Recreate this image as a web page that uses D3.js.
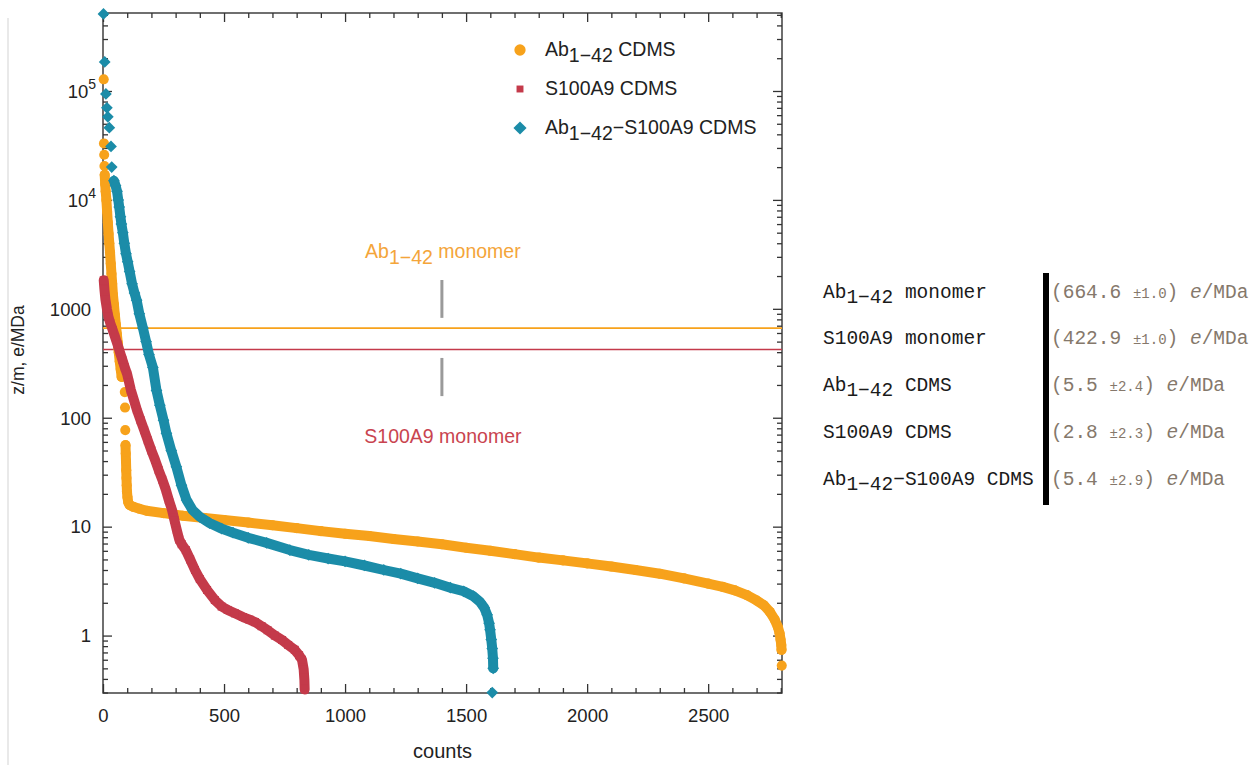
<!DOCTYPE html>
<html lang="en">
<head>
<meta charset="UTF-8">
<script src="https://cdn.jsdelivr.net/npm/d3@7/dist/d3.min.js"></script>
<title>z/m vs counts</title>
<style>
    body, html {
        margin: 0;
        padding: 0;
        background: #fff;
    }
    #chart {
        width: 1257px;
        height: 765px;
    }
</style>
</head>
<body>
<div id="chart"></div>
<script>

// ---- data ----
// [count, z/m in e/MDa], sorted descending
// "sparse" = isolated markers, "dense" = runs of markers that merge into a band
const abSparse = [
    [3, 128000], [4, 33000], [5, 26000], [6, 20500],
    [90, 172], [91, 124], [92, 77], [2804, 0.53]
]
const abDense = [
    [7, 17000], [9, 14000], [11, 12000], [14, 10000], [17, 7800], [20, 6200], [23, 4900], [26, 4000],
    [29, 3300], [32, 2600], [35, 2100], [38, 1700], [41, 1350], [45, 1100], [49, 880],
    [53, 720], [57, 590], [61, 490], [65, 400], [69, 330], [73, 280], [77, 237],
    null,
    [93, 56], [94, 47], [95, 40], [96, 33], [97, 28], [98, 24], [99, 21], [101, 18.7],
    [104, 16.8], [110, 15.8], [125, 15.2], [150, 14.6], [180, 14.0], [250, 13.3], [330, 12.6],
    [420, 12.0], [500, 11.5], [600, 10.9], [700, 10.3], [800, 9.7], [900, 9.1], [1000, 8.6],
    [1100, 8.2], [1200, 7.7], [1300, 7.3], [1400, 6.9], [1500, 6.4], [1600, 6.0], [1700, 5.6],
    [1800, 5.2], [1900, 4.9], [2000, 4.6], [2100, 4.3], [2200, 4.0], [2300, 3.7], [2400, 3.35],
    [2500, 3.0], [2560, 2.8], [2610, 2.6], [2660, 2.35], [2700, 2.1], [2730, 1.9], [2755, 1.65],
    [2775, 1.4], [2788, 1.2], [2795, 1.05], [2799, 0.92], [2802, 0.82], [2803, 0.74]
]
const s100Sparse = []
const s100Dense = [
    [3, 1830], [6, 1500], [10, 1220], [16, 1000], [22, 850], [30, 740], [40, 640], [50, 550],
    [60, 470], [70, 400], [80, 340], [90, 290], [100, 250], [108, 210], [115, 180], [128, 145],
    [140, 118], [155, 95], [170, 77], [185, 62], [200, 50], [215, 41], [230, 33], [245, 27],
    [260, 21.7], [272, 17.5], [285, 14.3], [295, 11.5], [305, 9.3], [315, 7.6], [325, 6.9],
    [342, 6.1], [360, 5.0], [380, 4.0], [400, 3.3], [430, 2.62], [462, 2.12], [490, 1.85],
    [515, 1.72], [545, 1.6], [578, 1.48], [605, 1.4], [628, 1.33], [655, 1.22], [680, 1.12],
    [710, 1.0], [740, 0.91], [765, 0.82], [792, 0.74], [810, 0.66], [822, 0.6], [829, 0.49],
    [832, 0.39], [833, 0.32]
]
const mixSparse = [
    [2, 510000], [7, 185000], [12, 94000], [16, 70000], [20, 58000], [26, 46000], [33, 31000],
    [36, 20000], [1608, 0.3]
]
const mixDense = [
    [45, 15000], [52, 13500], [58, 12000], [63, 10000], [67, 8600], [72, 7000],
    [76, 6000], [82, 5000], [88, 4000], [95, 3200], [102, 2700], [110, 2200], [120, 1700],
    [130, 1400], [139, 1200], [150, 900], [165, 665], [178, 500], [190, 380], [206, 290],
    [221, 178], [235, 130], [250, 95], [262, 72], [282, 50], [303, 35.5], [324, 24],
    [345, 17.6], [370, 14.2], [400, 12.3], [440, 10.8], [490, 9.6], [537, 8.8], [600, 7.9],
    [676, 7.1], [772, 6.1], [850, 5.5], [930, 5.1], [1000, 4.8], [1080, 4.4], [1160, 4.0],
    [1230, 3.7], [1300, 3.35], [1370, 3.05], [1435, 2.75], [1490, 2.55], [1530, 2.3],
    [1558, 2.03], [1575, 1.8], [1587, 1.55], [1595, 1.3], [1599, 1.13], [1604, 0.92],
    [1608, 0.76], [1611, 0.62], [1612, 0.5]
]

const seriesNames = ["Ab1-42 CDMS", "S100A9 CDMS", "Ab1-42-S100A9 CDMS"]
const seriesShapes = ["circle", "square", "diamond"]

// monomer reference levels
const monomerNames = ["Ab1-42 monomer", "S100A9 monomer"]
const monomerLevels = [664.6, 422.9]
// label position (count) and the gray marker spans (e/MDa)
const annotationCount = 1400
const markerSpans = [[1840, 826], [354, 158]]

// table on the right
const tableLabels = ["Ab1-42 monomer", "S100A9 monomer", "Ab1-42 CDMS", "S100A9 CDMS", "Ab1-42-S100A9 CDMS"]
const tableValues = ["664.6", "422.9", "5.5", "2.8", "5.4"]
const tableErrors = ["1.0", "1.0", "2.4", "2.3", "2.9"]

// axes
const xDomain = [0, 2805]
const yDomain = [0.297, 520000]
const xTicks = [0, 500, 1000, 1500, 2000, 2500]
const yTicks = [1, 10, 100, 1000, 10000, 100000]


// ---- layout ----
const W = 1257, H = 765
const plot = { left: 103, right: 782, top: 13, bottom: 693 }
const COLORS = ["#F7A21B", "#C43A4A", "#1B8CA8"]
const TEXT_COLORS = ["#F4A53A", "#C9444F"]
const FONT = "'Liberation Sans', Arial, sans-serif"
const MONO = "'Liberation Mono', 'DejaVu Sans Mono', monospace"

const svg = d3.select("#chart").append("svg").attr("width", W).attr("height", H)
    .style("font-family", FONT)

const x = d3.scaleLinear().domain(xDomain).range([plot.left, plot.right])
const y = d3.scaleLog().domain(yDomain).range([plot.bottom, plot.top])

// faint page edge on the left
svg.append("line").attr("x1", 8).attr("x2", 8).attr("y1", 18).attr("y2", H)
    .attr("stroke", "#e2e2e2").attr("stroke-width", 1.5)

// minor tick values
const xMinor = d3.range(0, 2801, 100).filter(v => v % 500 !== 0)
let yMinor = []
for (let d = 0.1; d <= 100000; d *= 10) {
    for (let k = 2; k <= 9; k++) {
        let v = k * d
        if (v >= yDomain[0] && v <= yDomain[1]) yMinor.push(v)
    }
}

const styleAxis = g => {
    g.select(".domain").remove()
    g.selectAll(".tick line").attr("stroke", "#333").attr("stroke-width", 1.3)
    g.selectAll("text").attr("fill", "#222").style("font-family", FONT).style("font-size", "18.5px")
}

// bottom / top
svg.append("g").attr("transform", `translate(0,${plot.bottom})`)
    .call(d3.axisBottom(x).tickValues(xTicks).tickSize(-9).tickPadding(16).tickFormat(d3.format("d")))
    .call(styleAxis)
svg.append("g").attr("transform", `translate(0,${plot.bottom})`)
    .call(d3.axisBottom(x).tickValues(xMinor).tickSize(-5).tickFormat(""))
    .call(styleAxis)
svg.append("g").attr("transform", `translate(0,${plot.top})`)
    .call(d3.axisTop(x).tickValues(xTicks).tickSize(-9).tickFormat(""))
    .call(styleAxis)
svg.append("g").attr("transform", `translate(0,${plot.top})`)
    .call(d3.axisTop(x).tickValues(xMinor).tickSize(-5).tickFormat(""))
    .call(styleAxis)

// left / right
const yLeft = svg.append("g").attr("transform", `translate(${plot.left},0)`)
    .call(d3.axisLeft(y).tickValues(yTicks).tickSize(-9).tickFormat(""))
    .call(styleAxis)
yLeft.selectAll(".tick").append("text")
    .attr("x", -12).attr("dy", "0.34em").attr("text-anchor", "end")
    .attr("fill", "#222").style("font-size", "18.5px")
    .each(function (d) {
        let t = d3.select(this)
        if (d >= 10000) {
            t.attr("x", -7)
            t.append("tspan").text("10")
            t.append("tspan").attr("dy", -9).style("font-size", "14px").text(Math.round(Math.log10(d)))
        } else {
            t.text(d)
        }
    })
svg.append("g").attr("transform", `translate(${plot.left},0)`)
    .call(d3.axisLeft(y).tickValues(yMinor).tickSize(-5).tickFormat(""))
    .call(styleAxis)
svg.append("g").attr("transform", `translate(${plot.right},0)`)
    .call(d3.axisRight(y).tickValues(yTicks).tickSize(-9).tickFormat(""))
    .call(styleAxis)
svg.append("g").attr("transform", `translate(${plot.right},0)`)
    .call(d3.axisRight(y).tickValues(yMinor).tickSize(-5).tickFormat(""))
    .call(styleAxis)

// frame
svg.append("rect").attr("x", plot.left).attr("y", plot.top)
    .attr("width", plot.right - plot.left).attr("height", plot.bottom - plot.top)
    .attr("fill", "none").attr("stroke", "#333").attr("stroke-width", 1.4)

// axis titles
svg.append("text").attr("x", (plot.left + plot.right) / 2).attr("y", 758)
    .attr("text-anchor", "middle").attr("fill", "#222").style("font-size", "20px").text("counts")
svg.append("text").attr("transform", "translate(24,350) rotate(-90)")
    .attr("text-anchor", "middle").attr("fill", "#222").style("font-size", "17.5px").text("z/m, e/MDa")

// monomer reference lines
monomerLevels.forEach((v, i) => {
    svg.append("line").attr("x1", plot.left).attr("x2", plot.right)
        .attr("y1", y(v)).attr("y2", y(v))
        .attr("stroke", COLORS[i]).attr("stroke-width", 1.6)
})

// marker symbols
const symbolPath = (shape, size) => {
    if (shape === "circle") return d3.symbol().type(d3.symbolCircle).size(size)()
    if (shape === "square") return d3.symbol().type(d3.symbolSquare).size(size * 0.8)()
    return d3.symbol().type(d3.symbolDiamond2).size(size * 1.1)()
}

// series: dense runs as a thick band with markers on it, sparse as lone markers
const denseSets = [abDense, s100Dense, mixDense]
const sparseSets = [abSparse, s100Sparse, mixSparse]
const band = d3.line().defined(d => d !== null).x(d => x(d[0])).y(d => y(d[1]))

denseSets.forEach((pts, si) => {
    let g = svg.append("g").attr("class", "series")
    g.append("path").attr("d", band(pts))
        .attr("fill", "none").attr("stroke", COLORS[si]).attr("stroke-width", 10)
        .attr("stroke-linecap", "round").attr("stroke-linejoin", "round")
    g.selectAll("path.pt").data(pts.filter(d => d !== null).concat(sparseSets[si])).enter()
        .append("path").attr("class", "pt")
        .attr("d", symbolPath(seriesShapes[si], 80))
        .attr("transform", d => `translate(${x(d[0])},${y(d[1])})`)
        .attr("fill", COLORS[si])
})

// sub-scripted "Ab1-42" helper
const writeLabel = (textSel, label, subDy) => {
    let parts = label.split("Ab1-42")
    parts.forEach((p, i) => {
        if (i > 0) {
            textSel.append("tspan").text("Ab")
            textSel.append("tspan").attr("dy", subDy).text("1\u221242")
            textSel.append("tspan").attr("dy", -subDy).text(p.startsWith("-") ? "\u2212" + p.slice(1) : p)
        } else if (p.length) {
            textSel.append("tspan").text(p)
        }
    })
}

// legend
seriesNames.forEach((name, i) => {
    let cy = 50 + i * 39
    svg.append("path").attr("d", symbolPath(seriesShapes[i], i === 1 ? 60 : 100))
        .attr("transform", `translate(520,${cy})`).attr("fill", COLORS[i])
    let t = svg.append("text").attr("x", 545).attr("y", cy + 6)
        .attr("fill", "#222").style("font-size", "19.5px")
    writeLabel(t, name, 6)
})

// monomer annotations
const annY = [258, 443]
monomerNames.forEach((name, i) => {
    let t = svg.append("text").attr("x", x(annotationCount) + 1).attr("y", annY[i])
        .attr("text-anchor", "middle").attr("fill", TEXT_COLORS[i]).style("font-size", "19.5px")
    writeLabel(t, name, 6)
    svg.append("line").attr("x1", x(annotationCount)).attr("x2", x(annotationCount))
        .attr("y1", y(markerSpans[i][0])).attr("y2", y(markerSpans[i][1]))
        .attr("stroke", "#9a9a9a").attr("stroke-width", 3)
})

// table
const rowY = [298, 344, 391, 438, 485]
tableLabels.forEach((lab, i) => {
    let t = svg.append("text").attr("x", 823).attr("y", rowY[i])
        .attr("fill", "#1a1a1a").style("font-family", MONO).style("font-size", "19.5px")
    writeLabel(t, lab, 5)

    let v = svg.append("text").attr("x", 1051).attr("y", rowY[i])
        .attr("fill", "#85786b").style("font-family", MONO).style("font-size", "19.5px")
        .attr("xml:space", "preserve")
    v.append("tspan").text("(" + tableValues[i] + " ")
    v.append("tspan").style("font-size", "14px").text("\u00b1" + tableErrors[i])
    v.append("tspan").text(") ")
    v.append("tspan").style("font-style", "italic").text("e")
    v.append("tspan").text("/MDa")
})
svg.append("rect").attr("x", 1043).attr("y", 273).attr("width", 6).attr("height", 232).attr("fill", "#000")

</script>
</body>
</html>
